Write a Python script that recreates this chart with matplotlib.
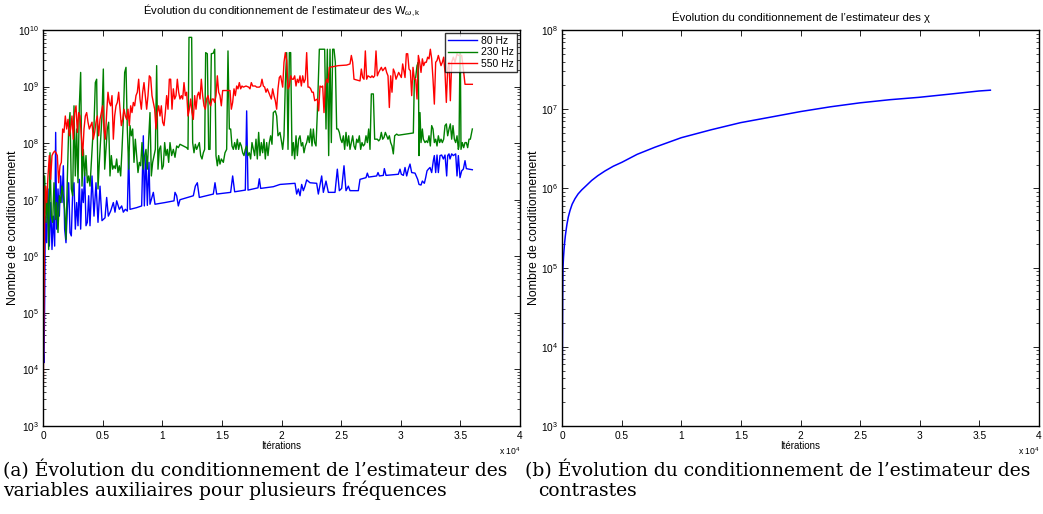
import numpy as np
import matplotlib
matplotlib.use('Agg')
import matplotlib.pyplot as plt
from matplotlib.ticker import FixedLocator, FuncFormatter, LogLocator, LogFormatterMathtext, NullFormatter

plt.rcParams['font.family'] = ['Liberation Sans', 'DejaVu Sans']
plt.rcParams['mathtext.fontset'] = 'custom'
plt.rcParams['mathtext.rm'] = 'Liberation Sans'
plt.rcParams['mathtext.it'] = 'Liberation Sans:italic'
plt.rcParams['mathtext.bf'] = 'Liberation Sans:bold'

# ---------------- data (iterations, log10 of condition number) ----------------
iter_80 = [28, 83, 139, 195, 307, 419, 531, 642, 754, 866,
           978, 1062, 1146, 1257, 1369, 1481, 1593, 1705, 1816, 1928,
           2040, 2152, 2264, 2375, 2487, 2599, 2711, 2823, 2935, 3047,
           3158, 3270, 3382, 3494, 3606, 3718, 3829, 3941, 4109, 4276,
           4444, 4612, 4779, 4947, 5199, 5339, 5478, 5674, 5898, 6037,
           6177, 6401, 6597, 6736, 6904, 7072, 7184, 7296, 7855, 8273,
           8413, 8497, 8637, 8749, 8888, 8972, 9252, 9391, 10230, 10985,
           11069, 11209, 11348, 11488, 12606, 12774, 12941, 13109, 14283, 14423,
           14563, 15737, 15904, 16072, 16966, 17078, 17190, 18028, 18140, 18252,
           19314, 19875, 21133, 21273, 21412, 21552, 21692, 21832, 21971, 22111,
           22391, 22950, 23089, 23369, 23509, 23732, 23928, 24487, 24682, 24850,
           25046, 25241, 25409, 25605, 25745, 26443, 26583, 27086, 27198, 27310,
           27981, 28093, 28205, 28540, 28624, 28764, 29798, 29937, 30049, 30218,
           30358, 30497, 30637, 30777, 30917, 31196, 31420, 31531, 31699, 31811,
           31979, 32090, 32202, 32314, 32454, 32594, 32733, 32817, 32929, 33041,
           33153, 33292, 33432, 33572, 33712, 33851, 33935, 34047, 34131, 34271,
           34410, 34606, 34718, 34830, 34969, 35109, 35249, 35389, 35500, 35724,
           36003]
logk_80 = [4.30, 4.12, 5.18, 6.71, 6.24, 7.19, 6.18, 6.95, 6.12, 6.71,
           6.18, 8.19, 6.48, 7.19, 6.71, 7.42, 6.95, 7.60, 6.48, 6.24,
           6.83, 7.30, 6.42, 6.36, 7.13, 7.30, 6.48, 6.95, 6.54, 7.36,
           6.48, 7.19, 6.95, 7.48, 6.54, 6.60, 7.07, 6.54, 7.42, 6.71,
           7.30, 6.60, 7.24, 6.63, 6.68, 7.04, 6.71, 6.80, 6.95, 6.78,
           6.98, 6.83, 6.89, 6.78, 6.83, 6.80, 7.81, 6.83, 6.86, 6.89,
           8.13, 6.89, 7.78, 6.90, 7.66, 6.92, 7.13, 6.92, 6.95, 6.98,
           7.13, 7.07, 6.89, 7.00, 7.07, 7.24, 7.30, 7.04, 7.10, 7.30,
           7.10, 7.13, 7.42, 7.14, 7.17, 8.57, 7.17, 7.21, 7.37, 7.20,
           7.23, 7.27, 7.29, 7.10, 7.19, 7.07, 7.27, 7.16, 7.24, 7.35,
           7.30, 7.29, 7.10, 7.42, 7.13, 7.33, 7.13, 7.13, 7.54, 7.16,
           7.20, 7.60, 7.16, 7.24, 7.16, 7.16, 7.36, 7.39, 7.47, 7.40,
           7.42, 7.48, 7.42, 7.43, 7.55, 7.43, 7.45, 7.54, 7.45, 7.43,
           7.57, 7.42, 7.54, 7.63, 7.48, 7.47, 7.36, 7.27, 7.26, 7.33,
           7.29, 7.39, 7.51, 7.54, 7.57, 7.48, 7.69, 7.78, 7.48, 7.79,
           7.48, 7.78, 7.79, 7.72, 7.79, 7.42, 7.78, 7.81, 7.72, 7.81,
           7.78, 7.81, 7.42, 7.78, 7.39, 7.51, 7.54, 7.69, 7.55, 7.54,
           7.53]

iter_230 = [28, 83, 139, 251, 363, 475, 587, 698, 810, 922,
            1034, 1146, 1257, 1369, 1481, 1593, 1705, 1816, 1928, 2040,
            2152, 2264, 2375, 2487, 2599, 2711, 2823, 2935, 3047, 3158,
            3270, 3382, 3494, 3606, 3718, 3829, 3941, 4053, 4165, 4276,
            4388, 4500, 4612, 4723, 4835, 4947, 5059, 5171, 5283, 5394,
            5506, 5618, 5730, 5842, 5954, 6065, 6177, 6289, 6401, 6513,
            6625, 6736, 6848, 6960, 7072, 7184, 7296, 7407, 7519, 7631,
            7743, 7855, 7966, 8078, 8190, 8302, 8413, 8525, 8637, 8749,
            8861, 8972, 9084, 9196, 9308, 9420, 9531, 9643, 9755, 9867,
            9979, 10091, 10202, 10314, 10426, 10538, 10650, 10789, 10929, 11069,
            11209, 11348, 11488, 11768, 12047, 12159, 12243, 12466, 12550, 12662,
            12774, 12886, 12997, 13109, 13221, 13333, 13445, 13556, 13640, 13780,
            13892, 14004, 14115, 14283, 14395, 14507, 14619, 14730, 14842, 14954,
            15122, 15261, 15401, 15513, 15625, 15737, 15848, 15960, 16072, 16184,
            16295, 16407, 16519, 16631, 16743, 16854, 16966, 17078, 17190, 17302,
            17413, 17525, 17637, 17749, 17861, 17972, 18084, 18196, 18308, 18420,
            18531, 18643, 18755, 18867, 18979, 19090, 19202, 19314, 19482, 19594,
            19706, 19873, 20015, 20099, 20210, 20322, 20434, 20546, 20658, 20769,
            20881, 20993, 21105, 21217, 21328, 21440, 21552, 21664, 21776, 21887,
            21999, 22111, 22223, 22335, 22446, 22558, 22670, 22782, 22894, 23005,
            23173, 23453, 23620, 23732, 23844, 23956, 24068, 24179, 24291, 24403,
            24515, 24627, 24738, 24850, 24962, 25074, 25186, 25297, 25409, 25521,
            25633, 25745, 25856, 25968, 26080, 26192, 26304, 26415, 26527, 26639,
            26751, 26863, 26974, 27086, 27198, 27310, 27422, 27533, 27701, 27813,
            28037, 28148, 28260, 28372, 28484, 28595, 28707, 28819, 28931, 29043,
            29154, 29266, 29378, 29490, 29658, 29799, 31056, 31140, 31252, 31364,
            31476, 31531, 31615, 31699, 31811, 31895, 32035, 32146, 32258, 32370,
            32482, 32594, 32705, 32817, 32929, 33041, 33153, 33264, 33376, 33488,
            33600, 33712, 33823, 33935, 34047, 34159, 34271, 34382, 34494, 34606,
            34718, 34830, 34885, 34941, 34997, 35053, 35165, 35277, 35389, 35500,
            35612, 35724, 35836, 36003]
logk_230 = [7.66, 6.71, 7.42, 6.60, 7.24, 6.12, 7.83, 6.71, 6.60, 7.30,
            6.65, 6.95, 6.42, 7.07, 6.95, 7.24, 7.07, 6.83, 6.30, 7.36,
            8.25, 8.54, 7.19, 7.07, 8.66, 7.42, 8.25, 7.30, 8.66, 9.25,
            7.24, 7.89, 7.42, 7.78, 7.30, 7.42, 7.24, 7.66, 8.07, 8.31,
            9.07, 9.13, 7.19, 7.66, 8.07, 8.48, 9.31, 7.54, 7.89, 8.25,
            8.37, 7.42, 7.78, 7.54, 7.60, 7.55, 7.72, 7.48, 7.60, 7.42,
            7.89, 8.42, 9.25, 9.34, 8.25, 7.54, 8.31, 8.13, 8.25, 7.66,
            8.07, 7.78, 7.48, 7.66, 7.60, 8.01, 7.54, 7.78, 7.89, 7.54,
            8.07, 8.54, 7.42, 7.66, 7.78, 7.89, 9.37, 7.54, 7.89, 7.95,
            7.54, 7.60, 8.01, 7.78, 7.89, 7.66, 8.01, 7.78, 7.89, 7.75,
            7.95, 7.92, 7.98, 7.95, 7.92, 7.89, 9.87, 9.87, 8.01, 7.83,
            7.98, 7.89, 7.95, 8.01, 7.78, 7.72, 7.83, 7.89, 9.60, 9.58,
            7.89, 7.89, 9.58, 9.59, 9.66, 7.78, 7.60, 7.78, 7.63, 7.72,
            7.66, 7.83, 7.89, 9.63, 8.25, 8.25, 7.95, 7.89, 8.01, 7.89,
            8.07, 7.89, 8.01, 7.95, 7.83, 7.78, 7.89, 7.95, 7.78, 7.83,
            7.72, 8.01, 7.89, 7.78, 8.07, 7.72, 8.19, 7.78, 8.01, 7.83,
            8.07, 7.72, 8.01, 7.78, 8.01, 8.13, 7.98, 8.54, 8.57, 8.48,
            8.13, 8.19, 8.01, 7.89, 8.13, 9.07, 9.60, 7.89, 9.60, 9.60,
            7.78, 8.01, 7.72, 8.13, 7.78, 8.07, 8.13, 7.95, 8.01, 7.83,
            7.95, 8.01, 8.13, 8.01, 8.25, 7.95, 8.25, 8.01, 7.95, 8.54,
            9.66, 9.66, 9.66, 8.25, 9.66, 7.78, 9.66, 8.01, 9.66, 9.66,
            9.43, 8.25, 8.25, 8.19, 8.07, 8.01, 8.13, 7.89, 8.19, 7.95,
            8.13, 7.89, 8.01, 8.13, 7.95, 7.89, 8.07, 8.01, 8.13, 7.89,
            8.01, 7.95, 7.98, 8.13, 8.01, 8.25, 7.89, 8.87, 8.87, 8.07,
            8.07, 8.04, 8.07, 8.19, 8.07, 8.10, 8.19, 8.13, 8.07, 8.13,
            8.01, 7.95, 7.81, 8.13, 8.16, 8.14, 8.18, 9.13, 9.16, 9.37,
            9.43, 7.78, 8.54, 8.01, 8.25, 8.07, 8.01, 8.04, 8.01, 8.13,
            7.95, 8.31, 8.25, 8.01, 8.07, 7.95, 8.13, 8.01, 8.07, 8.01,
            8.07, 8.31, 8.34, 8.13, 8.25, 8.34, 8.07, 8.31, 8.07, 8.01,
            8.13, 7.89, 7.95, 9.13, 9.60, 7.89, 8.01, 7.92, 8.01, 8.01,
            7.92, 8.07, 8.07, 8.25]

iter_550 = [28, 83, 139, 195, 307, 419, 531, 642, 754, 866,
            978, 1090, 1201, 1313, 1425, 1537, 1649, 1760, 1872, 1984,
            2096, 2208, 2319, 2431, 2543, 2655, 2767, 2879, 2991, 3103,
            3214, 3326, 3438, 3550, 3662, 3774, 3885, 3997, 4109, 4221,
            4332, 4444, 4556, 4668, 4779, 4891, 5003, 5115, 5227, 5339,
            5450, 5562, 5674, 5786, 5898, 6009, 6121, 6233, 6345, 6457,
            6568, 6680, 6792, 6904, 7016, 7128, 7240, 7351, 7463, 7575,
            7687, 7798, 7910, 8022, 8134, 8246, 8358, 8469, 8581, 8693,
            8805, 8916, 9028, 9140, 9252, 9364, 9476, 9587, 9699, 9811,
            9923, 10035, 10147, 10258, 10370, 10482, 10594, 10705, 10817, 10929,
            11041, 11153, 11264, 11376, 11488, 11600, 11712, 11823, 11935, 12047,
            12159, 12271, 12382, 12494, 12606, 12718, 12830, 12941, 13053, 13165,
            13277, 13389, 13500, 13612, 13724, 13836, 13948, 14059, 14171, 14283,
            14395, 14507, 14619, 14730, 14842, 14954, 15066, 15681, 15792, 15904,
            16016, 16128, 16240, 16351, 16463, 16575, 16687, 16799, 17022, 17246,
            17358, 17469, 17581, 17805, 17917, 18140, 18252, 18364, 18476, 18588,
            18699, 18811, 18923, 19035, 19147, 19258, 19370, 19482, 19594, 19706,
            19817, 19929, 20099, 20210, 20322, 20434, 20546, 20658, 20769, 20881,
            20993, 21105, 21217, 21328, 21440, 21552, 21664, 21776, 21887, 21999,
            22111, 22223, 22335, 22446, 22558, 22670, 22782, 23005, 23117, 23229,
            23341, 23453, 23564, 23676, 23788, 23900, 24012, 24766, 25465, 25745,
            25856, 25968, 26080, 26583, 26695, 26807, 26918, 27030, 27142, 27254,
            27478, 27589, 27701, 27813, 27925, 28037, 28148, 28372, 28484, 28595,
            28707, 28819, 28931, 29043, 29154, 29266, 29378, 29490, 29602, 29826,
            30049, 30161, 30358, 30469, 30581, 30693, 30805, 30917, 31028, 31140,
            31252, 31364, 31476, 31587, 31699, 31811, 31923, 32035, 32146, 32258,
            32370, 32482, 32594, 32705, 32817, 32929, 33041, 33153, 33264, 33376,
            33488, 33600, 33712, 33823, 33935, 34047, 34159, 34271, 34410, 34550,
            34718, 34830, 35109, 35249, 35389, 36003]
logk_550 = [3.71, 5.30, 6.71, 7.24, 6.95, 7.42, 7.78, 7.36, 7.78, 7.83,
            7.86, 7.83, 7.78, 7.30, 7.60, 7.66, 8.25, 8.19, 8.48, 8.25,
            8.42, 8.13, 8.25, 8.48, 8.07, 8.54, 8.66, 8.19, 8.54, 8.48,
            8.13, 7.78, 8.25, 8.48, 8.54, 8.37, 8.25, 8.31, 8.37, 8.07,
            8.19, 8.37, 8.48, 8.13, 8.42, 8.54, 8.66, 8.25, 8.07, 8.54,
            8.90, 8.72, 8.66, 8.84, 8.07, 8.48, 8.66, 8.72, 8.90, 8.60,
            8.31, 8.42, 8.60, 8.48, 8.42, 8.60, 8.31, 8.66, 8.54, 8.72,
            8.66, 8.84, 8.90, 9.13, 8.78, 8.60, 8.90, 9.07, 8.84, 8.60,
            8.84, 9.19, 9.16, 8.84, 8.72, 8.60, 8.25, 8.54, 8.66, 8.48,
            8.66, 8.37, 8.31, 8.54, 8.84, 8.60, 9.13, 9.13, 8.60, 8.96,
            8.78, 8.84, 9.13, 8.90, 8.78, 8.84, 8.78, 9.07, 8.84, 8.90,
            8.48, 8.60, 8.78, 8.54, 8.42, 8.84, 8.60, 8.84, 8.90, 8.78,
            9.13, 8.84, 8.66, 8.60, 8.78, 8.84, 8.72, 8.66, 8.78, 8.78,
            8.72, 8.84, 9.19, 8.90, 8.84, 8.66, 8.93, 8.93, 8.60, 8.72,
            8.96, 8.84, 9.01, 8.96, 9.07, 8.96, 9.01, 8.99, 9.01, 8.99,
            8.96, 9.07, 9.01, 9.01, 8.99, 8.99, 9.01, 9.13, 9.01, 8.99,
            8.90, 8.96, 8.90, 8.84, 8.78, 8.96, 8.84, 8.75, 8.60, 8.96,
            9.16, 9.19, 8.99, 9.43, 9.60, 9.46, 8.96, 9.01, 9.19, 9.13,
            9.13, 9.19, 9.01, 9.13, 9.07, 9.19, 9.01, 9.19, 9.07, 9.13,
            9.60, 8.99, 8.99, 8.96, 8.90, 8.90, 8.75, 8.78, 8.57, 9.01,
            8.99, 9.01, 8.54, 9.04, 9.13, 9.07, 9.34, 9.37, 9.38, 9.40,
            9.55, 9.43, 9.13, 9.10, 9.31, 9.16, 9.13, 9.63, 9.13, 9.19,
            9.16, 9.19, 9.16, 9.19, 9.63, 9.19, 9.25, 9.34, 9.28, 9.31,
            9.34, 9.25, 9.19, 8.63, 9.19, 8.90, 9.31, 9.25, 9.13, 9.25,
            9.16, 9.40, 9.16, 9.58, 9.58, 9.31, 9.28, 8.84, 9.34, 9.13,
            9.13, 8.78, 9.55, 9.43, 9.25, 9.49, 9.37, 9.43, 9.43, 9.52,
            9.49, 9.66, 9.49, 9.13, 8.69, 9.43, 9.46, 9.55, 9.46, 9.37,
            9.43, 9.52, 9.25, 8.72, 9.31, 9.43, 8.75, 9.43, 9.52, 9.43,
            9.58, 9.55, 9.55, 9.31, 9.04, 9.04]

iter_chi = [28, 56, 84, 126, 168, 224, 279, 350, 419, 530,
            670, 850, 1089, 1350, 1648, 2000, 2486, 3000, 3603, 4300,
            5028, 6300, 7793, 10000, 12500, 14972, 17500, 20000, 22500, 24972,
            27500, 29944, 32500, 34972, 35922]
logk_chi = [3.80, 4.60, 5.00, 5.13, 5.22, 5.32, 5.40, 5.48, 5.55, 5.64,
            5.72, 5.80, 5.87, 5.93, 5.98, 6.03, 6.10, 6.16, 6.22, 6.28,
            6.33, 6.43, 6.52, 6.64, 6.74, 6.83, 6.90, 6.97, 7.03, 7.08,
            7.12, 7.15, 7.19, 7.23, 7.24]

freq_labels = ['80 Hz', '230 Hz', '550 Hz']
x_ticks = [0, 5000, 10000, 15000, 20000, 25000, 30000, 35000, 40000]

# ---------------- figure ----------------
W, H = 1043, 514
fig = plt.figure(figsize=(W / 100, H / 100), dpi=100)
ax1 = fig.add_axes([43 / W, 1 - 426 / H, 477 / W, 396 / H])
ax2 = fig.add_axes([562 / W, 1 - 426 / H, 477 / W, 396 / H])

lw = 1.0
ax1.semilogy(iter_80, 10 ** np.array(logk_80), color=(0, 0, 1), lw=lw, label=freq_labels[0])
ax1.semilogy(iter_230, 10 ** np.array(logk_230), color=(0, 0.5, 0), lw=lw, label=freq_labels[1])
ax1.semilogy(iter_550, 10 ** np.array(logk_550), color=(1, 0, 0), lw=lw, label=freq_labels[2])
ax2.semilogy(iter_chi, 10 ** np.array(logk_chi), color=(0, 0, 1), lw=1.1)

fs_tick = 7.3
for ax, ylim, ylab_x in ((ax1, (1e3, 1e10), -0.050), (ax2, (1e3, 1e8), -0.046)):
    ax.set_xlim(0, 40000)
    ax.set_ylim(*ylim)
    ax.xaxis.set_major_locator(FixedLocator(x_ticks))
    ax.xaxis.set_major_formatter(FuncFormatter(lambda v, p: ('%g' % (v / 1e4))))
    ax.yaxis.set_major_locator(LogLocator(base=10, numticks=20))
    ax.yaxis.set_major_formatter(LogFormatterMathtext())
    ax.yaxis.set_minor_locator(LogLocator(base=10, subs=np.arange(2, 10), numticks=20))
    ax.yaxis.set_minor_formatter(NullFormatter())
    ax.tick_params(which='both', direction='in', top=True, right=True, labelsize=fs_tick)
    ax.tick_params(axis='x', pad=3.5)
    ax.tick_params(axis='y', pad=3)
    ax.tick_params(which='major', length=4, width=0.6)
    ax.tick_params(which='minor', length=2, width=0.5)
    for s in ax.spines.values():
        s.set_linewidth(1.0)
    ax.set_xlabel('Itérations', fontsize=7, labelpad=0)
    ax.set_ylabel('Nombre de conditionnement', fontsize=8.8)
    ax.yaxis.set_label_coords(ylab_x, 0.5)
    pos = ax.get_position()
    fig.text(pos.x1 - 21 / W, 1 - 455 / H, r'x 10$^{4}$', fontsize=6.2,
             ha='left', va='baseline')

p1 = ax1.get_position()
p2 = ax2.get_position()
fig.text((p1.x0 + p1.x1) / 2, 1 - 14 / H,
         r'Évolution du conditionnement de l’estimateur des W$_{\omega\mathrm{,k}}$',
         fontsize=8.2, ha='center', va='baseline')
fig.text((p2.x0 + p2.x1) / 2, 1 - 21 / H,
         'Évolution du conditionnement de l’estimateur des χ',
         fontsize=8.2, ha='center', va='baseline')

leg = ax1.legend(loc='upper right', fontsize=7.5, frameon=True, fancybox=False,
                 borderaxespad=0.25, handlelength=2.8, labelspacing=0.15,
                 borderpad=0.3, handletextpad=0.4)
leg.get_frame().set_edgecolor('black')
leg.get_frame().set_linewidth(1.0)

cap_font = dict(family='DejaVu Serif', fontsize=13.5, va='baseline', ha='left')
fig.text(3 / W, 1 - 476 / H, '(a) Évolution du conditionnement de l’estimateur des', **cap_font)
fig.text(3 / W, 1 - 496 / H, 'variables auxiliaires pour plusieurs fréquences', **cap_font)
fig.text(525 / W, 1 - 476 / H, '(b) Évolution du conditionnement de l’estimateur des', **cap_font)
fig.text(538 / W, 1 - 496 / H, 'contrastes', **cap_font)

fig.savefig('out.png', dpi=100)
